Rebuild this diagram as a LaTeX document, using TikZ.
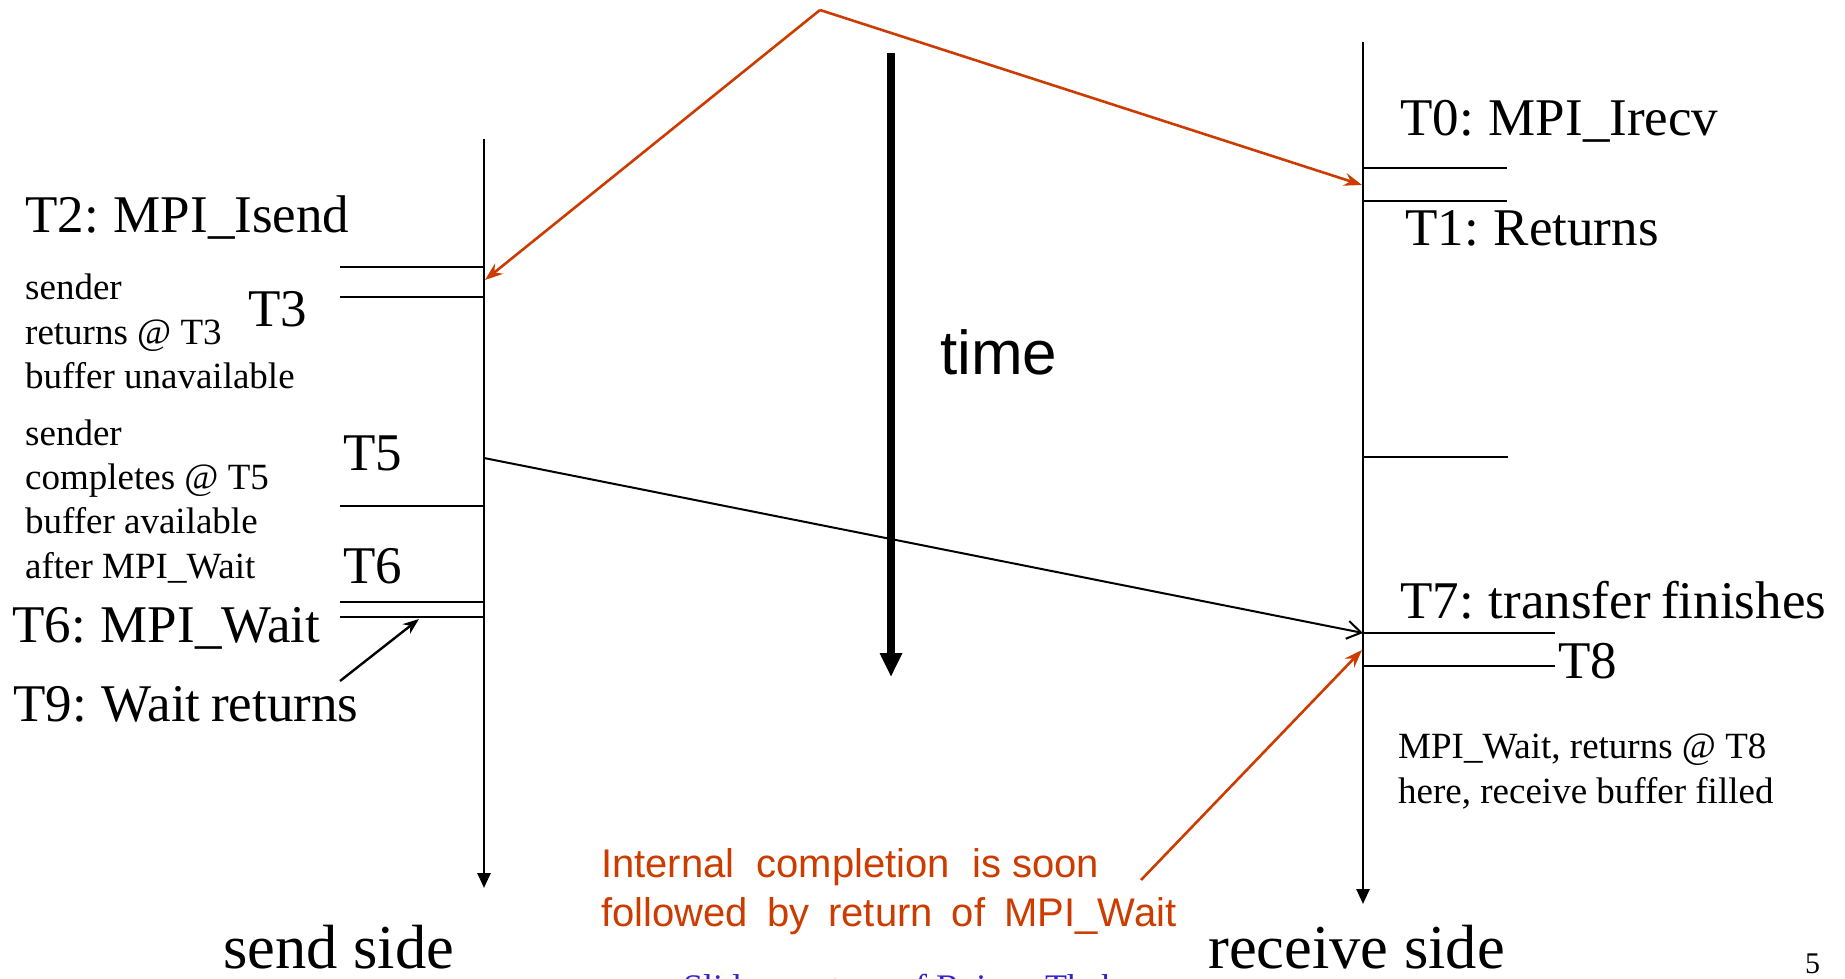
\documentclass[tikz,border=0pt]{standalone}
\usepackage{fontspec}
\setmainfont{Liberation Serif}
\newfontfamily\arialfont{Liberation Sans}
\usetikzlibrary{arrows.meta}
\definecolor{notered}{RGB}{204,60,0}
\definecolor{creditblue}{RGB}{40,40,210}
\newcommand{\bigfont}{\fontsize{53}{60}\selectfont\spaceskip=0.2em\relax}
\begin{document}
\begin{tikzpicture}[x=1pt,y=-1pt,
  axisline/.style={line width=2.6pt,-{Triangle[length=15pt,width=13pt]}},
  tickline/.style={line width=2.4pt},
  big/.style={anchor=base west,inner sep=0pt,font=\bigfont},
  smallL/.style={anchor=base west,inner sep=0pt,font=\fontsize{37}{44}\selectfont},
  smallR/.style={anchor=base west,inner sep=0pt,font=\fontsize{37}{44}\selectfont},
  side/.style={anchor=base west,inner sep=0pt,font=\fontsize{62.5}{68}\selectfont},
  note/.style={anchor=base west,inner sep=0pt,text=notered,font=\arialfont\fontsize{40}{48}\selectfont},
  msgarrow/.style={line width=2pt,-{Straight Barb[length=14pt,width=18pt,line width=2pt]}},
  hintarrow/.style={notered,line width=2.6pt,-{Stealth[length=18pt,width=13pt,inset=6pt]}},
  ptrarrow/.style={line width=2.4pt,-{Stealth[length=16pt,width=12pt,inset=5pt]}},
]
\useasboundingbox (0,0) rectangle (1845,979);
\clip (0,0) rectangle (1845,979);

% ---- send side time line ----
\coordinate (sTop) at (484,139);
\coordinate (sEnd) at (484,888);
\draw[axisline] (sTop) -- (sEnd);
\foreach \n/\y in {a/267,b/297,c/506,d/602,e/617}{
  \coordinate (sl\n) at (340,\y);
  \coordinate (sr\n) at (484,\y);
  \draw[tickline] (sl\n) -- (sr\n);
}

% ---- receive side time line ----
\coordinate (rTop) at (1363,42);
\coordinate (rEnd) at (1363,904);
\draw[axisline] (rTop) -- (rEnd);
\foreach \n/\y/\w in {a/168/1507,b/201/1507,c/457/1508,d/633/1555,e/666/1555}{
  \coordinate (rl\n) at (1363,\y);
  \coordinate (rr\n) at (\w,\y);
  \draw[tickline] (rl\n) -- (rr\n);
}

% ---- time arrow ----
\coordinate (tTop) at (891,53);
\coordinate (tEnd) at (891,677);
\draw[line width=8pt,-{Triangle[length=24pt,width=21pt]}] (tTop) -- (tEnd);
\node[anchor=base west,inner sep=0pt,font=\arialfont\fontsize{62}{70}\selectfont] (timelbl) at (940,374) {time};

% ---- message transfer ----
\coordinate (msgFrom) at (484,458);
\coordinate (msgTo) at (1363,633);
\draw[msgarrow] (msgFrom) -- (msgTo);

% ---- red hints ----
\coordinate (apex) at (820,10);
\coordinate (isendHit) at (485,280);
\coordinate (irecvHit) at (1362,185);
\draw[hintarrow] (apex) -- (isendHit);
\draw[hintarrow] (apex) -- (irecvHit);
\coordinate (noteTail) at (1141,880);
\coordinate (waitHit) at (1362,650);
\draw[hintarrow] (noteTail) -- (waitHit);

% ---- wait return pointer ----
\coordinate (t9Tail) at (340,681);
\coordinate (t9Head) at (419,619);
\draw[ptrarrow] (t9Tail) -- (t9Head);

% ---- send side labels ----
\node[big] (lT2) at (25,232) {T2: MPI\_Isend};
\node[big] (lT3) at (248,326) {T3};
\node[big] (lT5) at (343,470) {T5};
\node[big] (lT6) at (343,583) {T6};
\node[big] (lT6w) at (12,642) {T6: MPI\_Wait};
\node[big] (lT9) at (13,721) {T9: Wait returns};
\node[smallL] (sA1) at (25,299) {sender};
\node[smallL] (sA2) at (25,344) {returns @ T3};
\node[smallL] (sA3) at (25,388) {buffer unavailable};
\node[smallL] (sB1) at (25,445) {sender};
\node[smallL] (sB2) at (25,489) {completes @ T5};
\node[smallL] (sB3) at (25,533) {buffer available};
\node[smallL] (sB4) at (25,578) {after MPI\_Wait};
\node[side] (sendlbl) at (223,968) {send side};

% ---- receive side labels ----
\node[big] (lT0) at (1400,136) {T0: MPI\_Irecv};
\node[big] (lT1) at (1405,245) {T1: Returns};
\node[big] (lT7) at (1400,618) {T7: transfer finishes};
\node[big] (lT8) at (1558,678) {T8};
\node[smallR] (rA1) at (1398,758) {MPI\_Wait, returns @ T8};
\node[smallR] (rA2) at (1398,803) {here, receive buffer filled};
\node[side] (recvlbl) at (1208,968) {receive side};

% ---- note ----
\node[note] (n1) at (601,877) {Internal\hspace{11pt} completion\hspace{11pt} is soon};
\node[note] (n2) at (601,926) {followed\hspace{8pt} by\hspace{8pt} return\hspace{8pt} of\hspace{8pt} MPI\_Wait};

% ---- footer ----
\node[anchor=base west,inner sep=0pt,text=creditblue,font=\fontsize{36}{40}\selectfont] (credit) at (683,999) {Slide courtesy of Rajeev Thakur};
\node[anchor=base west,inner sep=0pt,font=\fontsize{30}{34}\selectfont] (pagenum) at (1805,973) {5};
\end{tikzpicture}
\end{document}
